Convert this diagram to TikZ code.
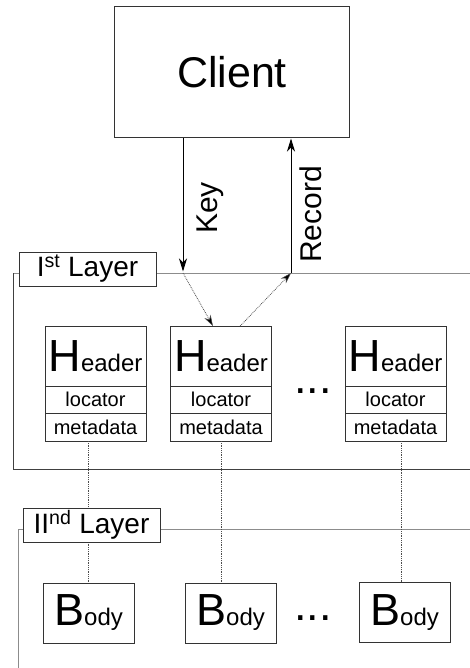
\documentclass[tikz,border=0pt]{standalone}
\usepackage{fontspec}
\setmainfont{Liberation Sans}
\usepackage{graphicx}
\usetikzlibrary{arrows.meta,positioning,calc}
\tikzset{
    client/.style={
        rectangle,
        draw=black!80,
        line width=1pt,
        fill=white,
        minimum width=235pt,
        minimum height=131pt,
        inner sep=0pt,
        font=\fontsize{43}{43}\selectfont,
    },
    hdr/.style={
        rectangle,
        draw=black!80,
        line width=1pt,
        fill=white,
        minimum width=101pt,
        minimum height=60pt,
        inner sep=0pt,
        outer sep=0pt,
    },
    field/.style={
        rectangle,
        draw=black!80,
        line width=1pt,
        fill=white,
        minimum width=101pt,
        minimum height=27.5pt,
        inner sep=0pt,
        outer sep=0pt,
        font=\fontsize{20}{20}\selectfont,
    },
    body/.style={
        rectangle,
        draw=black!80,
        line width=1pt,
        fill=white,
        minimum width=91pt,
        minimum height=60pt,
        inner sep=0pt,
    },
    layer/.style={
        rectangle,
        draw=black!80,
        line width=1pt,
        fill=white,
        minimum width=137pt,
        minimum height=34pt,
        inner sep=0pt,
        font=\fontsize{28}{28}\selectfont,
    },
    dots/.style={
        anchor=base,
        inner sep=0pt,
        font=\fontsize{45}{45}\selectfont,
    },
    arrtext/.style={
        rotate=90,
        anchor=base,
        inner sep=0pt,
        font=\fontsize{30}{30}\selectfont,
    },
    layertop/.style={draw=black!45, line width=1pt},
    layerside/.style={draw=black!75, line width=1pt},
    solidarr/.style={
        draw=black,
        line width=1pt,
        -{Stealth[length=13pt,width=8pt,inset=4pt]},
    },
    dotarr/.style={
        draw=black!70,
        line width=0.8pt,
        densely dotted,
        -{Stealth[length=11pt,width=7pt,inset=3.5pt,fill=black,line width=0.5pt]},
    },
    link/.style={
        draw=black!70,
        line width=0.8pt,
        densely dotted,
    },
}
\newcommand{\bighead}[2]{{\fontsize{45}{45}\selectfont #1}{\fontsize{24}{24}\selectfont #2}}

\begin{document}
\begin{tikzpicture}[x=1pt,y=-1pt]
    \useasboundingbox (0,0) rectangle (470,668);

    \node [client] (client) at (232,72.5) {Client};

    % layer frames
    \draw [layertop] (470,273) -- (13.5,273);
    \draw [layerside] (13.5,273) -- (13.5,469) -- (470,469);
    \draw [layertop] (470,529) -- (18,529);
    \draw [layertop] (18,529) -- (18,668);

    % first layer
    \node [hdr] (hd1) at (95.5,356) {\bighead{H}{eader}};
    \node [field, below=0pt of hd1] (loc1) {locator};
    \node [field, below=0pt of loc1] (meta1) {metadata};
    \node [hdr] (hd2) at (221,356) {\bighead{H}{eader}};
    \node [field, below=0pt of hd2] (loc2) {locator};
    \node [field, below=0pt of loc2] (meta2) {metadata};
    \node [hdr] (hd3) at (395.5,356) {\bighead{H}{eader}};
    \node [field, below=0pt of hd3] (loc3) {locator};
    \node [field, below=0pt of loc3] (meta3) {metadata};
    \node [dots] (hdots) at (313,393) {...};

    % second layer
    \node [body] (bd1) at (88.5,613) {\bighead{B}{ody}};
    \node [body] (bd2) at (230.5,613) {\bighead{B}{ody}};
    \node [body] (bd3) at (404.5,612.5) {\bighead{B}{ody}};
    \node [dots] (bdots) at (313,620) {...};

    \draw [link] (meta1.south -| bd1.north) -- (bd1.north);
    \draw [link] (meta2.south) -- (meta2.south |- bd2.north);
    \draw [link] ($(meta3.south)!.6!(meta3.south -| bd3.north)$) -- ($(bd3.north)!.4!(bd3.north -| meta3.south)$);

    \node [layer] (lay1) at (87.5,269) {I\textsuperscript{st} Layer};
    \node [layer] (lay2) at (91.5,525) {II\textsuperscript{nd} Layer};

    % request and answer
    \coordinate (keyin) at (183,273);
    \coordinate (recout) at (291,273);
    \draw [solidarr, shorten >=1.5pt] (client.south -| keyin) -- (keyin);
    \draw [dotarr] (keyin) -- ($(hd2.north west)!.42!(hd2.north east)$);
    \draw [dotarr] ($(hd2.north west)!.69!(hd2.north east)$) -- (recout);
    \draw [solidarr] (recout) -- (client.south -| recout);
    \node [arrtext] (keytxt) at (217,208) {Key};
    \node [arrtext] (rectxt) at (321.5,214.5) {Record};
\end{tikzpicture}
\end{document}
